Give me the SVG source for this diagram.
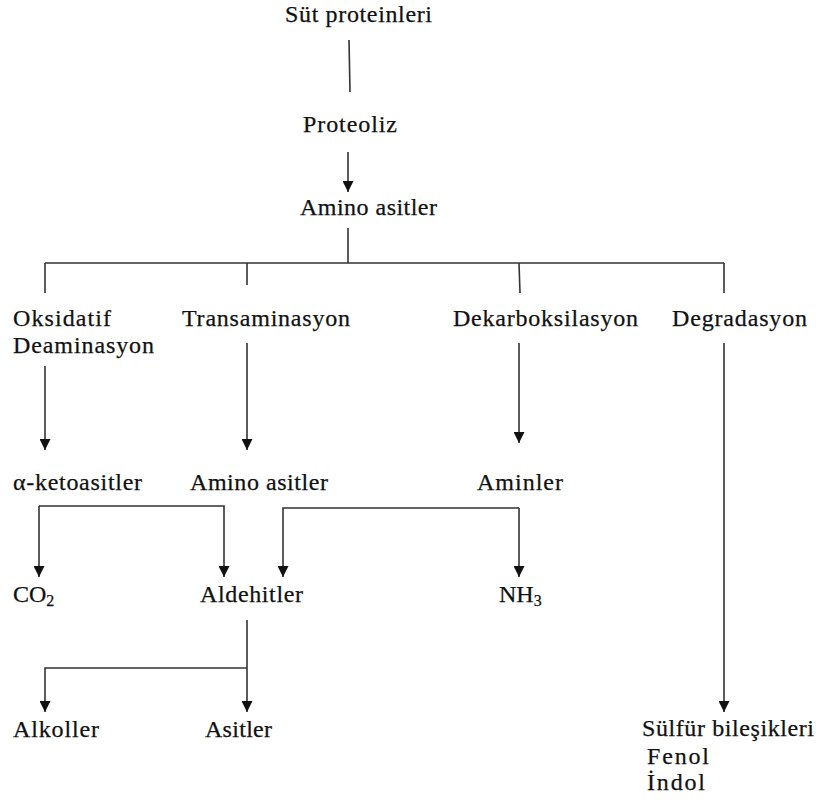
<svg xmlns="http://www.w3.org/2000/svg" width="816" height="801" viewBox="0 0 816 801">
<style>
text{font-family:"Liberation Serif","Times New Roman",serif;font-size:24px;fill:#111;stroke:#111;stroke-width:0.25}
.c path,.c line{stroke:#333;stroke-width:1.6;fill:none}
.a{marker-end:url(#ah)}
</style>
<defs>
<marker id="ah" viewBox="0 0 10 10" refX="10" refY="5" markerWidth="12" markerHeight="11" markerUnits="userSpaceOnUse" orient="auto">
<path d="M0,0 L10,5 L0,10 z" fill="#111"/>
</marker>
</defs>
<rect width="816" height="801" fill="#fff"/>
<g class="c" id="connectors">
<line x1="349" y1="40" x2="350" y2="92"/>
<line class="a" x1="348" y1="152" x2="348" y2="192"/>
<line x1="348" y1="228" x2="348" y2="263"/>
<line x1="45" y1="263" x2="724" y2="263"/>
<line x1="45" y1="263" x2="45" y2="293"/>
<line x1="247" y1="263" x2="247" y2="285"/>
<line x1="519" y1="263" x2="520" y2="293"/>
<line x1="724" y1="263" x2="724" y2="293"/>
<line class="a" x1="45" y1="366" x2="45" y2="450"/>
<line class="a" x1="247" y1="343" x2="247" y2="450"/>
<line class="a" x1="519" y1="343" x2="519" y2="443"/>
<line class="a" x1="724" y1="343" x2="724" y2="712"/>
<path class="a" d="M39,506 V577"/>
<path class="a" d="M39,506 H224 V577"/>
<path class="a" d="M519,508 V577"/>
<path class="a" d="M519,508 H283 V577"/>
<path class="a" d="M247,620 V712"/>
<path class="a" d="M247,668 H45 V712"/>
</g>
<g id="sut"><text x="285" y="22" textLength="147">Süt proteinleri</text></g>
<g id="proteoliz"><text x="303" y="132" textLength="94">Proteoliz</text></g>
<g id="amino1"><text x="300" y="215" textLength="137">Amino asitler</text></g>
<g id="oksidatif"><text x="13" y="326" textLength="98">Oksidatif</text><text x="13" y="353" textLength="141">Deaminasyon</text></g>
<g id="transaminasyon"><text x="182" y="326" textLength="168">Transaminasyon</text></g>
<g id="dekarboksilasyon"><text x="453" y="326" textLength="185">Dekarboksilasyon</text></g>
<g id="degradasyon"><text x="672" y="326" textLength="135">Degradasyon</text></g>
<g id="ketoasitler"><text x="13" y="490" textLength="129">α-ketoasitler</text></g>
<g id="amino2"><text x="190" y="490" textLength="138">Amino asitler</text></g>
<g id="aminler"><text x="477" y="490" textLength="86">Aminler</text></g>
<g id="co2"><text x="13" y="602">CO<tspan font-size="16" dy="4">2</tspan></text></g>
<g id="aldehitler"><text x="200" y="602" textLength="103">Aldehitler</text></g>
<g id="nh3"><text x="499" y="602">NH<tspan font-size="16" dy="4">3</tspan></text></g>
<g id="alkoller"><text x="13" y="737" textLength="86">Alkoller</text></g>
<g id="asitler"><text x="205" y="737" textLength="67">Asitler</text></g>
<g id="sulfur"><text x="642" y="736" textLength="172">Sülfür bileşikleri</text><text x="647" y="764" textLength="62">Fenol</text><text x="647" y="790" textLength="58">İndol</text></g>
</svg>
